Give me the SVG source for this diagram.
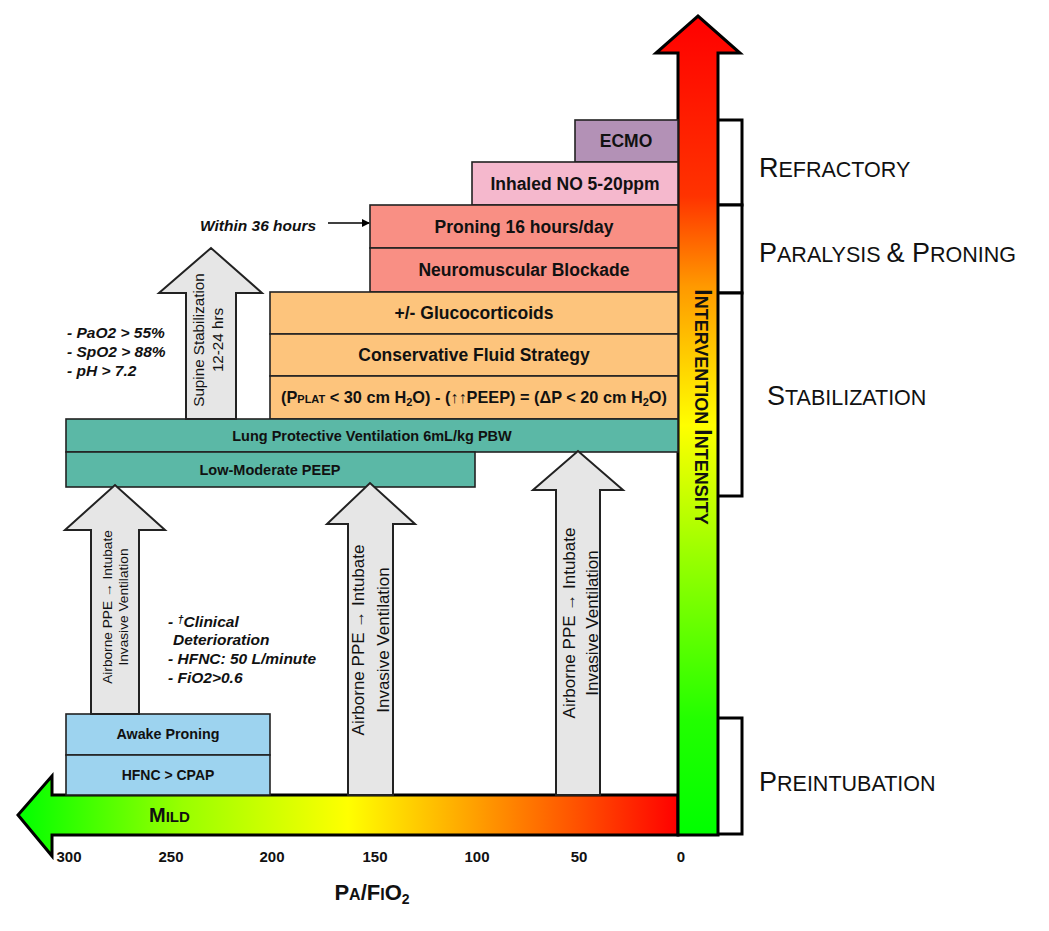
<svg xmlns="http://www.w3.org/2000/svg" width="1049" height="931" viewBox="0 0 1049 931">
<style>
text{font-family:"Liberation Sans",Arial,sans-serif;fill:#111}
.box{stroke:#222;stroke-width:1.6}
.bt{font-weight:bold;text-anchor:middle}
.ga{fill:#e6e6e6;stroke:#222;stroke-width:2}
.gt{text-anchor:middle}
.note{font-weight:bold;font-style:italic;font-size:15.5px}
.tick{font-weight:bold;font-size:15px;text-anchor:middle}
.br{fill:#fff;stroke:#000;stroke-width:3}
</style>
<defs>
<linearGradient id="hg" gradientUnits="userSpaceOnUse" x1="18" y1="0" x2="678" y2="0">
<stop offset="0" stop-color="#00ff00"/><stop offset="0.25" stop-color="#99ff00"/><stop offset="0.5" stop-color="#ffff00"/><stop offset="0.66" stop-color="#ffb000"/><stop offset="0.85" stop-color="#ff5000"/><stop offset="1" stop-color="#ff0000"/>
</linearGradient>
<linearGradient id="vg" gradientUnits="userSpaceOnUse" x1="0" y1="16" x2="0" y2="835">
<stop offset="0" stop-color="#ff0000"/><stop offset="0.22" stop-color="#ff3300"/><stop offset="0.33" stop-color="#ff9900"/><stop offset="0.5" stop-color="#ffff00"/><stop offset="0.66" stop-color="#99ff00"/><stop offset="0.86" stop-color="#22ff00"/><stop offset="1" stop-color="#00ff00"/>
</linearGradient>
<marker id="ah" markerWidth="8" markerHeight="8" refX="7" refY="4" orient="auto" markerUnits="userSpaceOnUse"><path d="M0,0 L8,4 L0,8 z" fill="#000"/></marker>
</defs>
<rect width="1049" height="931" fill="#fff"/>

<g id="brackets">
<rect class="br" x="716" y="120" width="26" height="85"/>
<rect class="br" x="716" y="205" width="26" height="88"/>
<rect class="br" x="716" y="293" width="26" height="203"/>
<rect class="br" x="716" y="718" width="26" height="116"/>
</g>

<g id="stage-labels">
<text x="759" y="177"><tspan font-size="27">R</tspan><tspan font-size="21.5">EFRACTORY</tspan></text>
<text x="759" y="262"><tspan font-size="27">P</tspan><tspan font-size="21.5">ARALYSIS </tspan><tspan font-size="27">&amp; P</tspan><tspan font-size="21.5">RONING</tspan></text>
<text x="767" y="405"><tspan font-size="27">S</tspan><tspan font-size="21.5">TABILIZATION</tspan></text>
<text x="759" y="791"><tspan font-size="27">P</tspan><tspan font-size="21.5">REINTUBATION</tspan></text>
</g>

<g id="mild-arrow">
<path d="M678,795 L52,795 L52,776 L18,815 L52,856 L52,835 L678,835 Z" fill="url(#hg)" stroke="#000" stroke-width="3" stroke-linejoin="miter"/>
<text x="149" y="822" font-weight="bold"><tspan font-size="20">M</tspan><tspan font-size="15">ILD</tspan></text>
</g>

<g id="intensity-arrow">
<path d="M678,835 L678,53 L656,53 L698,16 L740,53 L718,53 L718,835 Z" fill="url(#vg)" stroke="#000" stroke-width="3"/>
<text transform="translate(695,407) rotate(90)" text-anchor="middle" font-weight="bold"><tspan font-size="23">I</tspan><tspan font-size="18">NTERVENTION </tspan><tspan font-size="23">I</tspan><tspan font-size="18">NTENSITY</tspan></text>
</g>

<g id="axis">
<text class="tick" x="69" y="862">300</text>
<text class="tick" x="171" y="862">250</text>
<text class="tick" x="272" y="862">200</text>
<text class="tick" x="375" y="862">150</text>
<text class="tick" x="477" y="862">100</text>
<text class="tick" x="579" y="862">50</text>
<text class="tick" x="681" y="862">0</text>
<text x="372" y="900" text-anchor="middle" font-weight="bold"><tspan font-size="22">P</tspan><tspan font-size="16">A</tspan><tspan font-size="22">/F</tspan><tspan font-size="16">I</tspan><tspan font-size="22">O</tspan><tspan font-size="14" dy="4">2</tspan></text>
</g>

<g id="ecmo"><rect class="box" x="575" y="120" width="103" height="42" fill="#b391b6"/><text class="bt" x="626" y="147" font-size="17.5">ECMO</text></g>
<g id="inhaled-no"><rect class="box" x="472" y="162" width="206" height="43" fill="#f5b8cd"/><text class="bt" x="575" y="190" font-size="17.5">Inhaled NO 5-20ppm</text></g>
<g id="proning"><rect class="box" x="370" y="205" width="308" height="43" fill="#f98f84"/><text class="bt" x="524" y="233" font-size="17.5">Proning 16 hours/day</text></g>
<g id="nmb"><rect class="box" x="370" y="248" width="308" height="44" fill="#f98f84"/><text class="bt" x="524" y="276" font-size="17.5">Neuromuscular Blockade</text></g>
<g id="glucocorticoids"><rect class="box" x="270" y="292" width="408" height="42" fill="#fdc47c"/><text class="bt" x="474" y="319" font-size="17.5">+/- Glucocorticoids</text></g>
<g id="fluid"><rect class="box" x="270" y="334" width="408" height="42" fill="#fdc47c"/><text class="bt" x="474" y="361" font-size="17.5">Conservative Fluid Strategy</text></g>
<g id="pplat"><rect class="box" x="270" y="376" width="408" height="43" fill="#fdc47c"/><text class="bt" x="474" y="403" font-size="16.3">(P<tspan font-size="11">PLAT</tspan> &lt; 30 cm H<tspan font-size="11" dy="3">2</tspan><tspan dy="-3">O) - (↑↑PEEP) = (ΔP &lt; 20 cm H</tspan><tspan font-size="11" dy="3">2</tspan><tspan dy="-3">O)</tspan></text></g>
<g id="lpv"><rect class="box" x="66" y="419" width="612" height="33" fill="#5bb8a6"/><text class="bt" x="372" y="441" font-size="14.5">Lung Protective Ventilation 6mL/kg PBW</text></g>
<g id="peep"><rect class="box" x="66" y="452" width="409" height="35" fill="#5bb8a6"/><text class="bt" x="270" y="475" font-size="14.5">Low-Moderate PEEP</text></g>
<g id="awake-proning"><rect class="box" x="66" y="714" width="204" height="41" fill="#9dd3ef"/><text class="bt" x="168" y="739" font-size="14.3">Awake Proning</text></g>
<g id="hfnc"><rect class="box" x="66" y="755" width="204" height="40" fill="#9dd3ef"/><text class="bt" x="168" y="780" font-size="14">HFNC &gt; CPAP</text></g>

<g id="supine-arrow">
<path class="ga" d="M186,419 L186,293 L159,293 L211,248 L262,293 L236,293 L236,419 Z"/>
<text class="gt" font-size="15.2" transform="translate(204,340) rotate(-90)">Supine Stabilization</text>
<text class="gt" font-size="15.2" transform="translate(223,340) rotate(-90)">12-24 hrs</text>
</g>

<g id="airborne-left">
<path class="ga" d="M91,714 L91,530 L65,530 L115,485 L165,530 L139,530 L139,714 Z"/>
<text class="gt" font-size="13.7" transform="translate(112,607) rotate(-90)">Airborne PPE → Intubate</text>
<text class="gt" font-size="13.7" transform="translate(128,607) rotate(-90)">Invasive Ventilation</text>
</g>

<g id="airborne-mid">
<path class="ga" d="M348,795 L348,524 L327,524 L370,483 L415,524 L393,524 L393,795 Z"/>
<text class="gt" font-size="17" transform="translate(364,640) rotate(-90)">Airborne PPE  →  Intubate</text>
<text class="gt" font-size="17" transform="translate(389,640) rotate(-90)">Invasive Ventilation</text>
</g>

<g id="airborne-right">
<path class="ga" d="M556,795 L556,490 L533,490 L578,451 L623,490 L600,490 L600,795 Z"/>
<text class="gt" font-size="17" transform="translate(575,623) rotate(-90)">Airborne PPE  →  Intubate</text>
<text class="gt" font-size="17" transform="translate(598,623) rotate(-90)">Invasive Ventilation</text>
</g>

<g id="notes">
<text class="note" x="200" y="231" font-size="16">Within 36 hours</text>
<text class="note" x="67" y="338">- PaO2 &gt; 55%</text>
<text class="note" x="67" y="357">- SpO2 &gt; 88%</text>
<text class="note" x="67" y="376">- pH &gt; 7.2</text>
<text class="note" x="168" y="627">- <tspan font-size="11" dy="-4">†</tspan><tspan dy="4">Clinical</tspan></text>
<text class="note" x="173" y="645">Deterioration</text>
<text class="note" x="168" y="664">- HFNC: 50 L/minute</text>
<text class="note" x="168" y="683">- FiO2&gt;0.6</text>
</g>

<g id="connectors">
<line x1="328" y1="223" x2="369" y2="223" stroke="#000" stroke-width="1.5" marker-end="url(#ah)"/>
</g>
</svg>
